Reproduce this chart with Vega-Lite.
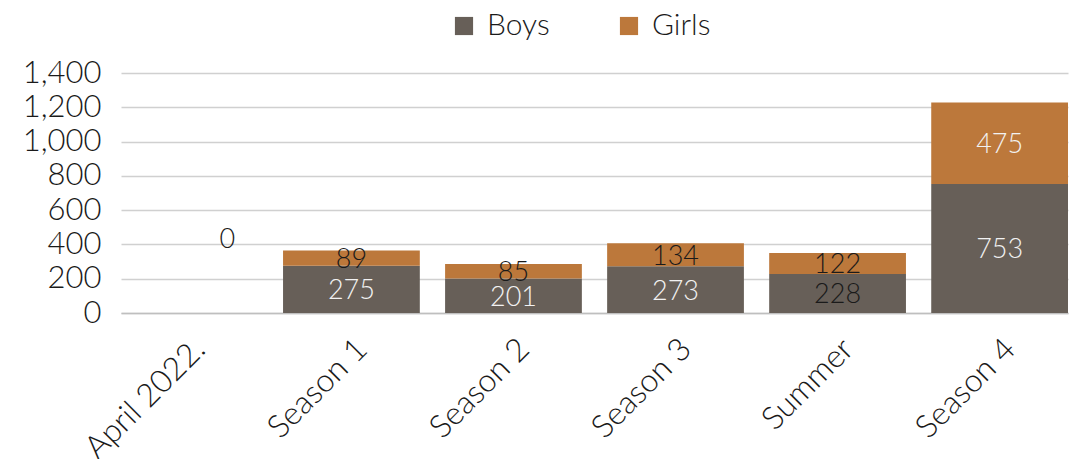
{
  "$schema": "https://vega.github.io/schema/vega-lite/v6.json",
  "width": 947,
  "height": 240,
  "autosize": {"type": "none"},
  "padding": {"left": 121, "top": 73, "right": 6, "bottom": 146},
  "background": "white",
  "config": {
    "view": {"stroke": null},
    "font": "Lato",
    "axis": {"labelFont": "Lato", "labelFontWeight": 300, "labelColor": "#1a1a1a"},
    "axisY": {
      "values": [0, 200, 400, 600, 800, 1000, 1200, 1400],
      "format": ",d",
      "labelFontSize": 31,
      "labelPadding": 20,
      "labelOverlap": false,
      "labelFlush": false,
      "ticks": false,
      "domain": false,
      "gridColor": "#d0d0d0",
      "gridWidth": 1.5
    },
    "legend": {"labelFont": "Lato", "labelFontWeight": 300, "labelColor": "#1a1a1a"}
  },
  "data": {
    "values": [
      {"period": "April 2022.", "series": "Boys", "value": 0},
      {"period": "April 2022.", "series": "Girls", "value": 0},
      {"period": "Season 1", "series": "Boys", "value": 275},
      {"period": "Season 1", "series": "Girls", "value": 89},
      {"period": "Season 2", "series": "Boys", "value": 201},
      {"period": "Season 2", "series": "Girls", "value": 85},
      {"period": "Season 3", "series": "Boys", "value": 273},
      {"period": "Season 3", "series": "Girls", "value": 134},
      {"period": "Summer", "series": "Boys", "value": 228},
      {"period": "Summer", "series": "Girls", "value": 122},
      {"period": "Season 4", "series": "Boys", "value": 753},
      {"period": "Season 4", "series": "Girls", "value": 475}
    ]
  },
  "encoding": {
    "x": {
      "field": "period",
      "type": "nominal",
      "sort": null,
      "title": null,
      "scale": {"paddingInner": 0.156, "paddingOuter": 0},
      "axis": {
        "labelAngle": -45,
        "labelFontSize": 32,
        "labelPadding": 20,
        "labelOverlap": false,
        "ticks": false,
        "domainColor": "#bfbfbf",
        "domainWidth": 1.5
      }
    }
  },
  "layer": [
    {
      "mark": {"type": "bar"},
      "encoding": {
        "y": {
          "field": "value",
          "type": "quantitative",
          "stack": "zero",
          "title": null,
          "scale": {"domain": [0, 1400]}
        },
        "order": {"field": "series", "sort": "ascending"},
        "color": {
          "field": "series",
          "type": "nominal",
          "title": null,
          "scale": {"domain": ["Boys", "Girls"], "range": ["#675f58", "#bc783b"]},
          "legend": {
            "orient": "none",
            "direction": "horizontal",
            "legendX": 328,
            "legendY": -62,
            "symbolType": "square",
            "symbolSize": 330,
            "symbolStrokeWidth": 0,
            "labelFontSize": 30,
            "labelOffset": 8,
            "columnPadding": 64
          }
        }
      }
    },
    {
      "transform": [{"filter": "datum.value > 0"}],
      "mark": {"type": "text", "fontSize": 27, "fontWeight": 300, "font": "Lato", "baseline": "middle", "dy": 2},
      "encoding": {
        "y": {"field": "value", "type": "quantitative", "stack": "zero", "bandPosition": 0.5, "title": null},
        "order": {"field": "series", "sort": "ascending"},
        "detail": {"field": "series"},
        "text": {"field": "value", "type": "quantitative", "format": "d"},
        "color": {
          "condition": {
            "test": "(datum.series == 'Boys' && datum.period != 'Summer') || (datum.series == 'Girls' && datum.period == 'Season 4')",
            "value": "#f2f2f2"
          },
          "value": "#1a1a1a"
        }
      }
    },
    {
      "transform": [{"filter": "datum.period == 'April 2022.' && datum.series == 'Boys'"}],
      "mark": {"type": "text", "fontSize": 27, "fontWeight": 300, "font": "Lato", "baseline": "middle", "dx": 38, "dy": -73, "color": "#1a1a1a"},
      "encoding": {
        "y": {"field": "value", "type": "quantitative", "title": null},
        "text": {"field": "value", "type": "quantitative", "format": "d"}
      }
    }
  ]
}
